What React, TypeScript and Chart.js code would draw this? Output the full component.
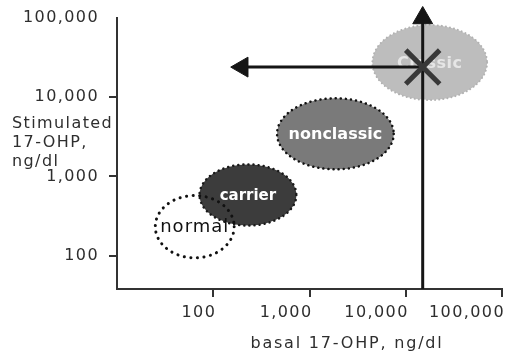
import React, { useEffect, useRef } from "react";
import { Chart, registerables } from "chart.js";

Chart.register(...registerables);

// ---- data ----
const groups = ["normal", "carrier", "nonclassic", "Classic"];
const basalLow = [25, 72, 460, 4500];
const basalHigh = [165, 730, 7500, 70000];
const stimLow = [94, 240, 1230, 9200];
const stimHigh = [575, 1420, 9700, 81500];

const xTickValues = [100, 1000, 10000, 100000];
const xTickLabels = ["100", "1,000", "10,000", "100,000"];
const yTickValues = [100, 1000, 10000, 100000];
const yTickLabels = ["100", "1,000", "10,000", "100,000"];

const xMin = 10;
const xMax = 100000;
const yMin = 38;
const yMax = 100000;

const patientBasal = 15000;
const patientStim = 24000;
const arrowTopStim = 100000;
const arrowLeftBasal = 200;

const xTitle = "basal 17-OHP, ng/dl";
const yTitleLines = ["Stimulated", "17-OHP,", "ng/dl"];

// ---- styles ----
const FONT = "'DejaVu Sans', 'Liberation Sans', sans-serif";
const groupStyle = [
  { fill: null, border: "#111", dash: [0.1, 6.5], bw: 3, text: "#111", font: `18px ${FONT}`, ls: "1px" },
  { fill: "#3c3c3c", border: "#1a1a1a", dash: [0.1, 5], bw: 2.5, text: "#ffffff", font: `bold 15px ${FONT}`, ls: "0px" },
  { fill: "#7a7a7a", border: "#111", dash: [0.1, 5], bw: 2.5, text: "#ffffff", font: `bold 16px ${FONT}`, ls: "0px" },
  { fill: "#bdbdbd", border: "#b2b2b2", dash: [0.1, 4], bw: 2, text: "#e6e6e6", font: `bold 16px ${FONT}`, ls: "0.5px" },
];

const ellipsePlugin = {
  id: "ellipses",
  beforeDatasetsDraw(chart: any) {
    const { ctx, scales } = chart;
    const xs = scales.x;
    const ys = scales.y;
    const geo = groups.map((_, i) => {
      const x1 = xs.getPixelForValue(basalLow[i]);
      const x2 = xs.getPixelForValue(basalHigh[i]);
      const y1 = ys.getPixelForValue(stimLow[i]);
      const y2 = ys.getPixelForValue(stimHigh[i]);
      return {
        cx: (x1 + x2) / 2,
        cy: (y1 + y2) / 2,
        rx: Math.abs(x2 - x1) / 2,
        ry: Math.abs(y2 - y1) / 2,
      };
    });
    const drawOrder = [1, 2, 3, 0];
    ctx.save();
    for (const i of drawOrder) {
      const g = geo[i];
      const st = groupStyle[i];
      ctx.beginPath();
      ctx.ellipse(g.cx, g.cy, g.rx, g.ry, 0, 0, Math.PI * 2);
      if (st.fill) {
        ctx.fillStyle = st.fill;
        ctx.fill();
      }
      ctx.setLineDash(st.dash);
      ctx.lineCap = "round";
      ctx.lineWidth = st.bw;
      ctx.strokeStyle = st.border;
      ctx.stroke();
    }
    ctx.setLineDash([]);
    ctx.textAlign = "center";
    ctx.textBaseline = "middle";
    for (let i = 0; i < groups.length; i++) {
      const g = geo[i];
      const st = groupStyle[i];
      ctx.font = st.font;
      (ctx as any).letterSpacing = st.ls;
      ctx.fillStyle = st.text;
      ctx.fillText(groups[i], g.cx, g.cy + 1);
    }
    ctx.restore();
  },
};

const spacingPlugin = {
  id: "spacing",
  beforeLayout(chart: any) {
    (chart.ctx as any).letterSpacing = "1.4px";
  },
  beforeDraw(chart: any) {
    (chart.ctx as any).letterSpacing = "1.4px";
  },
};

const titlePlugin = {
  id: "titles",
  afterDraw(chart: any) {
    const { ctx } = chart;
    ctx.save();
    ctx.fillStyle = "#2e2e2e";
    ctx.font = `16px ${FONT}`;
    ctx.textBaseline = "middle";
    (ctx as any).letterSpacing = "1.4px";
    ctx.textAlign = "left";
    yTitleLines.forEach((t, i) => ctx.fillText(t, 12, 124 + i * 19));
    (ctx as any).letterSpacing = "1.8px";
    ctx.textAlign = "center";
    ctx.fillText(xTitle, 347, 344);
    ctx.restore();
  },
};

const zeroPad = (s: any) => {
  s.paddingLeft = 0;
  s.paddingRight = 0;
  s.paddingTop = 0;
  s.paddingBottom = 0;
};

export default function App() {
  const ref = useRef<HTMLCanvasElement | null>(null);

  useEffect(() => {
    document.body.style.margin = "0";
    if (!ref.current) return;
    const ARROW = "#151515";
    const chart = new Chart(ref.current, {
      type: "scatter",
      data: {
        datasets: [
          {
            label: "patient",
            data: [{ x: patientBasal, y: patientStim }],
            pointStyle: "crossRot",
            pointRadius: 24,
            pointBorderWidth: 5,
            pointBorderColor: "#383838",
            pointBackgroundColor: "#383838",
            clip: false,
          } as any,
          {
            label: "up",
            data: [
              { x: patientBasal, y: yMin },
              { x: patientBasal, y: arrowTopStim },
            ],
            showLine: true,
            borderColor: ARROW,
            borderWidth: 3,
            pointStyle: "triangle",
            pointRadius: [0, 11.5],
            pointRotation: 0,
            pointBorderWidth: 1,
            pointBorderColor: ARROW,
            pointBackgroundColor: ARROW,
            clip: false,
          } as any,
          {
            label: "left",
            data: [
              { x: patientBasal, y: patientStim },
              { x: arrowLeftBasal, y: patientStim },
            ],
            showLine: true,
            borderColor: ARROW,
            borderWidth: 3,
            pointStyle: "triangle",
            pointRadius: [0, 11.5],
            pointRotation: -90,
            pointBorderWidth: 1,
            pointBorderColor: ARROW,
            pointBackgroundColor: ARROW,
            clip: false,
          } as any,
        ],
      },
      options: {
        animation: false,
        responsive: true,
        maintainAspectRatio: false,
        events: [],
        layout: { autoPadding: false, padding: { top: 18, right: 8, left: 0, bottom: 0 } },
        plugins: {
          legend: { display: false },
          tooltip: { enabled: false },
          title: { display: false },
        },
        scales: {
          x: {
            type: "logarithmic",
            min: xMin,
            max: xMax,
            afterBuildTicks: (s: any) => {
              s.ticks = xTickValues.map((v) => ({ value: v }));
            },
            afterFit: (s: any) => {
              s.height = 62;
              zeroPad(s);
            },
            ticks: {
              autoSkip: false,
              maxRotation: 0,
              minRotation: 0,
              align: "end",
              labelOffset: 3,
              padding: 6,
              color: "#2e2e2e",
              font: { family: FONT, size: 16 },
              callback: (_v: any, i: number) => xTickLabels[i],
            },
            grid: {
              display: true,
              drawOnChartArea: false,
              drawTicks: true,
              tickLength: 8,
              lineWidth: 2,
              color: "#333",
            },
            border: { display: true, color: "#333", width: 2 },
          },
          y: {
            type: "logarithmic",
            min: yMin,
            max: yMax,
            afterBuildTicks: (s: any) => {
              s.ticks = yTickValues.map((v) => ({ value: v }));
            },
            afterFit: (s: any) => {
              s.width = 117;
              zeroPad(s);
            },
            ticks: {
              autoSkip: false,
              padding: 10,
              color: "#2e2e2e",
              font: { family: FONT, size: 16 },
              callback: (_v: any, i: number) => yTickLabels[i],
            },
            grid: {
              display: true,
              drawOnChartArea: false,
              drawTicks: true,
              tickLength: 8,
              lineWidth: 2,
              color: (c: any) =>
                c.tick && c.tick.value === yMax ? "rgba(0,0,0,0)" : "#333",
            },
            border: { display: true, color: "#333", width: 2 },
          },
        },
      } as any,
      plugins: [spacingPlugin, ellipsePlugin, titlePlugin],
    });
    return () => chart.destroy();
  }, []);

  return (
    <div style={{ position: "fixed", left: 0, top: 0, width: 510, height: 351, background: "#fff" }}>
      <canvas ref={ref} />
    </div>
  );
}
